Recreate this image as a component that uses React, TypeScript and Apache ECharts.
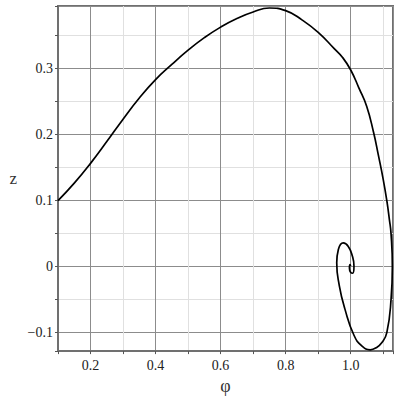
import React, { useEffect, useRef } from "react";
import * as echarts from "echarts";

// trajectory (φ, z)
const phiValues = [
  0.1, 0.15, 0.2, 0.25, 0.3, 0.35, 0.4, 0.45, 0.5, 0.55, 0.6, 0.65, 0.7, 0.75, 0.8, 0.85, 0.9, 0.95, 0.975,
  1.0, 1.025, 1.049, 1.07, 1.085, 1.1, 1.111, 1.119, 1.124, 1.128, 1.124, 1.111, 1.096, 1.078, 1.06, 1.034,
  1.01, 0.982, 0.965, 0.957, 0.962, 0.977, 0.992, 1.005, 1.01, 1.006, 1.0, 0.996, 0.998, 1.0,
];
const zValues = [
  0.1, 0.1265, 0.1565, 0.1895, 0.2235, 0.2555, 0.2835, 0.3065, 0.328, 0.347, 0.363, 0.376, 0.386, 0.392,
  0.388, 0.374, 0.355, 0.33, 0.317, 0.298, 0.271, 0.243, 0.204, 0.169, 0.132, 0.1, 0.071, 0.05, 0.0, -0.05,
  -0.1, -0.115, -0.123, -0.126, -0.12, -0.104, -0.064, -0.029, 0.006, 0.026, 0.036, 0.031, 0.016, 0.001,
  -0.01, -0.009, -0.002, 0.003, 0.001,
];

const xTickValues = [0.2, 0.4, 0.6, 0.8, 1.0];
const xTickLabels = ["0.2", "0.4", "0.6", "0.8", "1.0"];
const yTickValues = [-0.1, 0, 0.1, 0.2, 0.3];
const yTickLabels = ["\u22120.1", "0", "0.1", "0.2", "0.3"];

const xName = "\u03c6";
const yName = "z";

function labelFor(v: number, vals: number[], labels: string[]) {
  for (let i = 0; i < vals.length; i++) {
    if (Math.abs(v - vals[i]) < 1e-6) return labels[i];
  }
  return "";
}

export default function App() {
  const ref = useRef<HTMLDivElement>(null);
  useEffect(() => {
    if (!ref.current) return;
    const chart = echarts.init(ref.current, undefined, { renderer: "svg" });
    const font = "'Liberation Serif', 'Times New Roman', serif";
    chart.setOption({
      animation: false,
      backgroundColor: "#ffffff",
      textStyle: { fontFamily: font },
      grid: {
        left: 58,
        right: 7,
        top: 6,
        bottom: 47,
        show: true,
        borderColor: "#707070",
        borderWidth: 2,
        backgroundColor: "transparent",
      },
      xAxis: {
        type: "value",
        min: 0.1,
        max: 1.13,
        interval: 0.1,
        name: xName,
        nameLocation: "middle",
        nameGap: 23,
        nameTextStyle: { fontFamily: font, fontSize: 18, color: "#333" },
        axisLine: { show: true, onZero: false, lineStyle: { color: "#707070", width: 2 } },
        axisTick: { show: true, length: 3, lineStyle: { color: "#555", width: 1 } },
        axisLabel: {
          fontFamily: font,
          fontSize: 14,
          color: "#222",
          margin: 7,
          showMinLabel: true,
          showMaxLabel: true,
          formatter: (v: number) => labelFor(v, xTickValues, xTickLabels),
        },
        splitLine: { show: true, lineStyle: { color: ["#e0e0e0", "#8c8c8c"], width: 1 } },
      },
      yAxis: {
        type: "value",
        min: -0.128,
        max: 0.395,
        splitNumber: 10,
        name: yName,
        nameLocation: "middle",
        nameRotate: 0,
        nameGap: 41,
        nameTextStyle: { fontFamily: font, fontSize: 17, color: "#333" },
        axisLine: { show: true, onZero: false, lineStyle: { color: "#707070", width: 2 } },
        axisTick: { show: true, length: 3, lineStyle: { color: "#555", width: 1 } },
        axisLabel: {
          fontFamily: font,
          fontSize: 14,
          color: "#222",
          margin: 5,
          formatter: (v: number) => labelFor(v, yTickValues, yTickLabels),
        },
        splitLine: { show: true, lineStyle: { color: ["#e0e0e0", "#8c8c8c"], width: 1 } },
      },
      series: [
        {
          type: "line",
          data: phiValues.map((p, i) => [p, zValues[i]]),
          showSymbol: false,
          smooth: 0.5,
          lineStyle: { color: "#000", width: 1.7 },
          clip: true,
        },
      ],
    });
    return () => chart.dispose();
  }, []);
  return (
    <div
      ref={ref}
      style={{ position: "fixed", left: 0, top: 0, width: 400, height: 400 }}
    />
  );
}
